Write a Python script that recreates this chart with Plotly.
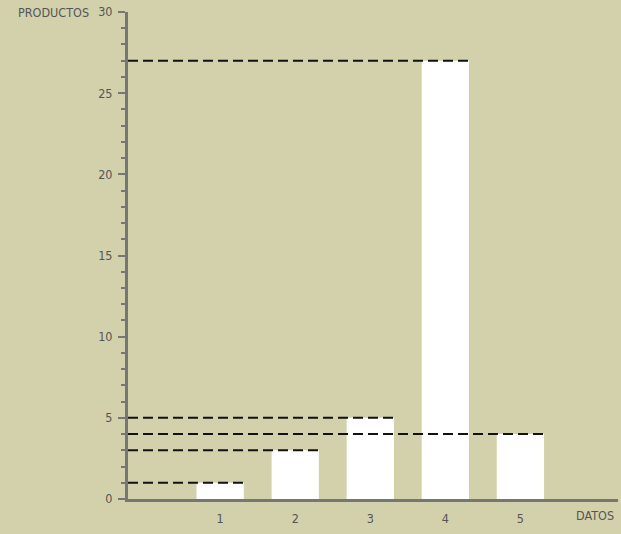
import plotly.graph_objects as go

categories = [1, 2, 3, 4, 5]
productos = [1, 3, 5, 27, 4]
y_ticks = [0, 5, 10, 15, 20, 25, 30]

bar_width = 0.63
x_min, x_max = -0.228, 6.3
bg = "#d2d1ac"
axis_col = "#767672"
text_col = "#555555"
font_family = "DejaVu Sans Condensed, Liberation Sans Narrow, sans-serif"

fig = go.Figure()
fig.add_trace(go.Bar(
    x=categories, y=productos, width=bar_width,
    marker=dict(color="white", line=dict(width=0)),
    hoverinfo="x+y",
))

shapes = []
for c, v in zip(categories, productos):
    shapes.append(dict(
        type="line", xref="x", yref="y",
        x0=x_min, x1=c + bar_width / 2, y0=v, y1=v,
        line=dict(color="#111111", width=2, dash="10px,5px"),
        layer="above",
    ))

fig.update_layout(
    width=621, height=534,
    margin=dict(l=128, r=3, t=12, b=35),
    paper_bgcolor=bg, plot_bgcolor=bg,
    showlegend=False,
    shapes=shapes,
    font=dict(family=font_family, size=12.5, color=text_col),
    xaxis=dict(
        range=[x_min, x_max], tickvals=categories,
        ticktext=[str(c) for c in categories],
        showgrid=False, zeroline=False,
        showline=True, linecolor=axis_col, linewidth=3,
        ticks="", ticklabelstandoff=6,
        tickfont=dict(family=font_family, size=12.5, color=text_col),
    ),
    yaxis=dict(
        range=[0, 30], tickvals=y_ticks,
        showgrid=False, zeroline=False,
        showline=True, linecolor=axis_col, linewidth=3,
        ticks="outside", ticklen=7, tickwidth=2, tickcolor=axis_col,
        ticklabelstandoff=3,
        minor=dict(dtick=1, ticks="outside", ticklen=4, tickwidth=1.5, tickcolor=axis_col),
        tickfont=dict(family=font_family, size=12.5, color=text_col),
    ),
    annotations=[
        dict(text="PRODUCTOS", xref="paper", yref="paper", x=-0.228, y=1.0,
             xanchor="left", yanchor="middle", showarrow=False,
             font=dict(family=font_family, size=12.5, color=text_col)),
        dict(text="DATOS", xref="paper", yref="paper", x=0.995, y=-0.034,
             xanchor="right", yanchor="middle", showarrow=False,
             font=dict(family=font_family, size=12.5, color=text_col)),
    ],
)

fig.write_html(
    "out.html",
    config={"displayModeBar": False},
    post_script="document.body.style.margin='0';document.body.style.background='%s';" % bg,
)
